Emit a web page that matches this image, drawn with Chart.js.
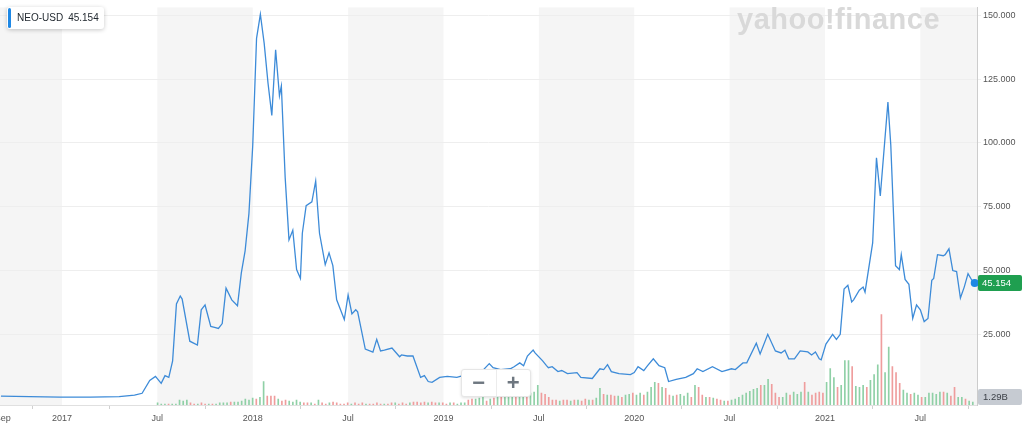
<!DOCTYPE html>
<html>
<head>
<meta charset="utf-8">
<title>NEO-USD</title>
<script src="https://cdn.jsdelivr.net/npm/chart.js@4.4.0/dist/chart.umd.min.js"></script>
<style>
    html, body { margin: 0; padding: 0; background: #fff; }
    #wrap { position: relative; width: 1024px; height: 434px; font-family: "Liberation Sans", Arial, sans-serif; overflow: hidden; }
    #wrap canvas { position: absolute; left: 0; top: 0; }
    .quote { position: absolute; left: 7px; top: 7px; height: 22px; line-height: 22px; padding: 0 5px 0 10px; background: #fff;
             border-radius: 3px; box-shadow: 0 1px 4px rgba(0,0,0,0.22); font-size: 10px; color: #232a31; white-space: nowrap; }
    .quote:before { content: ''; position: absolute; left: 1px; top: 1px; bottom: 1px; width: 3px; border-radius: 2px; background: #1e88e5; }
    .quote b { font-weight: normal; margin-right: 5px; }
    .brand { position: absolute; left: 737px; top: 5px; font-size: 29px; line-height: 29px; font-weight: bold; color: #d9d9d9; letter-spacing: 0.5px; }
    .zoomer { position: absolute; left: 461px; top: 369px; width: 68px; height: 26px; background: #fff; border: 1px solid #e6e6e6;
              border-radius: 3px; box-shadow: 0 1px 3px rgba(0,0,0,0.12); display: flex; }
    .zoomer span { flex: 1; text-align: center; font-size: 22px; line-height: 26px; font-weight: bold; color: #6e7780; }
    .zoomer span + span { border-left: 1px solid #ececec; }
</style>
</head>
<body>
<div id="wrap">
    <canvas id="priceChart" width="1024" height="434"></canvas>
    <div class="quote"><b id="quoteSymbol"></b><span id="quotePrice"></span></div>
    <div class="brand">yahoo!finance</div>
    <div class="zoomer"><span>&minus;</span><span>+</span></div>
</div>
<script>
const symbol = 'NEO-USD';
const lastPrice = 45.154;
const lastVolumeLabel = '1.29B';

// price line, dates as decimal years
const priceDates = [
    2016.68, 2016.83, 2016.99, 2017.15, 2017.30, 2017.38, 2017.42, 2017.46, 2017.49, 2017.52,
    2017.54, 2017.56, 2017.58, 2017.60, 2017.62, 2017.63, 2017.67, 2017.71, 2017.73, 2017.75,
    2017.78, 2017.80, 2017.82, 2017.84, 2017.86, 2017.89, 2017.92, 2017.94, 2017.96, 2017.98,
    2018.00, 2018.02, 2018.04, 2018.06, 2018.08, 2018.10, 2018.12, 2018.14, 2018.15, 2018.17,
    2018.19, 2018.21, 2018.23, 2018.25, 2018.26, 2018.28, 2018.31, 2018.33, 2018.35, 2018.38,
    2018.40, 2018.42, 2018.44, 2018.48, 2018.50, 2018.52, 2018.54, 2018.55, 2018.59, 2018.63,
    2018.65, 2018.67, 2018.69, 2018.73, 2018.77, 2018.78, 2018.81, 2018.84, 2018.88, 2018.90,
    2018.92, 2018.94, 2018.98, 2019.02, 2019.07, 2019.12, 2019.19, 2019.24, 2019.26, 2019.30,
    2019.35, 2019.37, 2019.40, 2019.42, 2019.44, 2019.47, 2019.48, 2019.52, 2019.54, 2019.55,
    2019.57, 2019.60, 2019.62, 2019.65, 2019.70, 2019.72, 2019.78, 2019.82, 2019.84, 2019.86,
    2019.88, 2019.92, 2019.98, 2020.00, 2020.02, 2020.05, 2020.07, 2020.10, 2020.13, 2020.16,
    2020.18, 2020.22, 2020.27, 2020.31, 2020.33, 2020.36, 2020.41, 2020.46, 2020.51, 2020.53,
    2020.57, 2020.59, 2020.64, 2020.66, 2020.70, 2020.74, 2020.77, 2020.79, 2020.81, 2020.84,
    2020.87, 2020.91, 2020.93, 2020.95, 2020.97, 2020.98, 2021.005, 2021.04, 2021.06, 2021.08,
    2021.10, 2021.12, 2021.14, 2021.15, 2021.18, 2021.20, 2021.21, 2021.25, 2021.27, 2021.29,
    2021.33, 2021.345, 2021.37, 2021.39, 2021.40, 2021.42, 2021.44, 2021.46, 2021.48, 2021.50,
    2021.52, 2021.54, 2021.56, 2021.57, 2021.59, 2021.62, 2021.63, 2021.65, 2021.67, 2021.69,
    2021.71, 2021.73, 2021.75, 2021.77, 2021.785
];
const priceValues = [
    0.8, 0.6, 0.4, 0.4, 0.6, 1.2, 1.9, 6.9, 8.5, 5.8,
    8.8, 8.1, 14.6, 36.9, 40.0, 38.8, 22.3, 20.8, 34.6, 36.5,
    28.1, 27.7, 27.3, 29.2, 43.1, 38.5, 36.2, 49.0, 57.7, 72.3,
    99.0, 141.0, 150.4, 139.0, 123.5, 110.8, 136.5, 118.5, 122.3, 86.5,
    62.0, 65.8, 50.4, 46.9, 64.6, 75.4, 76.9, 85.0, 64.6, 52.3,
    56.9, 51.9, 38.5, 30.8, 40.4, 33.0, 34.6, 33.8, 19.2, 18.0,
    23.0, 18.5, 18.8, 19.6, 16.2, 16.9, 16.5, 16.5, 8.1, 8.8,
    6.5, 6.2, 8.1, 8.5, 8.1, 9.2, 9.6, 13.5, 11.9, 11.2,
    11.5, 12.3, 13.8, 12.7, 16.5, 18.8, 17.7, 14.6, 12.7, 11.9,
    12.3, 10.4, 10.8, 9.6, 10.0, 8.1, 7.7, 11.5, 11.2, 13.1,
    10.4, 9.6, 9.2, 10.0, 12.3, 10.8, 12.7, 15.4, 12.7, 11.9,
    6.5, 7.3, 8.1, 9.6, 11.5, 10.4, 12.3, 10.4, 11.5, 11.2,
    13.8, 13.8, 21.5, 17.3, 25.0, 18.5, 17.7, 18.8, 15.4, 15.4,
    18.5, 18.1, 16.9, 18.1, 15.4, 15.0, 21.2, 25.0, 23.0, 25.0,
    42.7, 44.2, 37.7, 38.5, 42.3, 43.5, 41.5, 60.8, 94.2, 79.2,
    116.0, 99.2, 51.9, 50.4, 56.2, 46.5, 44.6, 31.2, 36.5, 34.6,
    30.0, 31.2, 46.2, 46.9, 56.2, 55.8, 56.2, 58.5, 50.0, 49.6,
    39.2, 43.5, 48.8, 46.2, 45.154
];

// weekly volume in billions, oldest first; last week ends 2021.775
const volumeEnd = 2021.775;
const volume = [
    0.9, 0.4, 0.4, 0.4, 0.4, 0.4, 2.2, 1.7, 2.2, 0.9, 0.4, 0.4, 0.9, 0.4, 0.4, 0.4, 0.4, 0.9, 0.9,
    0.9, 1.3, 1.3, 1.3, 1.7, 2.6, 2.2, 3.0, 2.6, 3.4, 10.3,
    3.9, 3.9, 3.9, 2.6, 1.7, 2.2, 1.7, 1.3, 2.2, 1.3, 0.9,
    0.9, 0.9, 0.4, 2.2, 0.9, 0.4, 0.9, 1.3, 0.9, 0.4, 0.4, 0.9, 0.4,
    0.9, 0.4, 0.9, 0.4, 0.4, 0.4, 0.9, 0.4, 0.4, 0.4, 0.9, 0.9, 0.4, 0.9, 0.4, 0.9,
    1.3, 1.3, 0.9, 1.3, 0.9, 1.3, 0.9, 0.9, 0.9, 0.4, 0.9, 0.9, 0.4, 0.9, 0.9,
    2.2, 2.6, 2.6, 3.0, 3.4, 1.7, 2.6, 3.0, 3.9, 3.4, 5.2,
    4.3, 4.7, 4.3, 5.2, 5.6, 4.7, 5.2, 5.6, 8.6,
    5.2, 4.7, 3.4,
    2.2, 2.2, 1.7, 2.2, 2.2, 1.7, 2.2, 2.2, 1.7, 2.6, 2.2, 2.2,
    3.0, 7.3,
    4.7, 4.3, 4.3, 3.9, 3.9, 3.4, 4.3, 4.7, 5.2,
    4.3, 5.2, 4.3, 5.6,
    7.7, 9.9, 9.5, 7.7, 7.3,
    4.3, 3.9, 4.3, 4.7, 3.9, 5.2,
    3.4, 8.6, 7.7,
    4.3, 3.4, 3.4, 3.0, 2.6, 2.2,
    1.7, 1.7, 2.2, 2.6, 3.4, 4.3, 5.2,
    6.0, 6.9,
    7.3, 8.6, 8.6, 11.2, 9.0, 5.2, 3.4, 3.4, 5.2, 4.3,
    5.6, 4.7, 5.6, 9.9, 5.6, 4.3, 5.2, 5.6, 5.2, 9.9,
    15.9, 12.0, 7.7, 8.6, 19.4, 19.4, 16.8, 8.2, 7.7, 8.6,
    7.7, 10.8, 13.3, 17.6, 39.6, 14.2, 25.4, 16.8, 14.2, 9.5,
    6.5, 5.2, 4.7, 5.2, 4.3, 3.4, 3.4, 5.2, 5.2, 4.7,
    5.6, 5.6, 5.2, 3.9, 7.7, 3.4, 3.4, 2.6, 1.7, 1.3
];
// 1 = price closed up that week, 0 = down
const volumeUp = [
    1, 1, 1, 0, 1, 1, 1, 1, 1, 0, 0, 1, 0, 0, 1, 0, 1, 1, 1,
    1, 0, 1, 1, 1, 1, 1, 1, 0, 1, 1,
    0, 0, 0, 1, 0, 0, 1, 1, 1, 1, 0,
    0, 1, 0, 1, 0, 0, 1, 0, 0, 0, 0, 0, 1,
    0, 0, 0, 1, 0, 0, 0, 0, 1, 0, 0, 1, 0, 0, 0, 1,
    0, 0, 0, 0, 1, 0, 0, 1, 0, 0, 1, 0, 1, 1, 1,
    0, 0, 1, 1, 1, 0, 1, 0, 1, 0, 1,
    1, 1, 0, 1, 1, 0, 1, 1, 1,
    0, 0, 0,
    0, 0, 1, 0, 0, 1, 0, 1, 0, 0, 1, 0,
    1, 1,
    0, 1, 0, 0, 1, 0, 1, 1, 0,
    1, 1, 0, 1,
    1, 1, 0, 1, 0,
    0, 1, 0, 1, 1, 1,
    0, 1, 0,
    0, 1, 0, 1, 0, 0,
    1, 0, 1, 1, 1, 1, 1,
    1, 1,
    1, 0, 1, 1, 0, 0, 0, 1, 1, 0,
    1, 1, 1, 0, 1, 0, 0, 0, 0, 1,
    1, 1, 0, 1, 1, 1, 0, 1, 1, 1,
    0, 1, 1, 1, 0, 1, 1, 0, 0, 0,
    1, 1, 0, 1, 1, 0, 1, 1, 1, 1,
    1, 0, 1, 0, 0, 1, 1, 0, 1, 1
];

const xMin = 2016.675;
const xMax = 2021.797;
const xTicks = [2016.69, 2017, 2017.5, 2018, 2018.5, 2019, 2019.5, 2020, 2020.5, 2021, 2021.5];
const xTickLabels = ['Sep', '2017', 'Jul', '2018', 'Jul', '2019', 'Jul', '2020', 'Jul', '2021', 'Jul'];
const bandEdges = [xMin, 2017, 2017.5, 2018, 2018.5, 2019, 2019.5, 2020, 2020.5, 2021, 2021.5, xMax];
const yTicks = [25, 50, 75, 100, 125, 150];

document.addEventListener('DOMContentLoaded', function() {
    document.getElementById('quoteSymbol').innerText = symbol;
    document.getElementById('quotePrice').innerText = lastPrice.toFixed(3);
    initializePriceChart();
});

// half-year grey bands behind the plot
const bandPlugin = {
    id: 'bands',
    beforeDraw(chart) {
        const { ctx, chartArea, scales } = chart;
        ctx.save();
        ctx.fillStyle = '#f5f5f5';
        for (let i = 0; i < bandEdges.length - 1; i += 2) {
            const x1 = scales.x.getPixelForValue(bandEdges[i]);
            const x2 = scales.x.getPixelForValue(bandEdges[i + 1]);
            ctx.fillRect(x1, chartArea.top, x2 - x1, chartArea.bottom - chartArea.top);
        }
        ctx.restore();
    }
};

// current price and volume tags on the right axis
const tagPlugin = {
    id: 'tags',
    afterDraw(chart) {
        const { ctx, chartArea, scales } = chart;
        const left = chartArea.right + 1;
        ctx.save();
        ctx.font = '9.5px "Liberation Sans", Arial, sans-serif';
        ctx.textBaseline = 'middle';

        const py = scales.y.getPixelForValue(lastPrice);
        ctx.fillStyle = '#1f9f50';
        ctx.beginPath();
        ctx.roundRect(left, py - 8, 44, 16, 2);
        ctx.fill();
        ctx.fillStyle = '#ffffff';
        ctx.fillText(lastPrice.toFixed(3), left + 4, py + 0.5);

        const vy = chartArea.bottom - 8;
        ctx.fillStyle = '#c6cbd2';
        ctx.beginPath();
        ctx.roundRect(left, vy - 8, 44, 16, 2);
        ctx.fill();
        ctx.fillStyle = '#3c4148';
        ctx.fillText(lastVolumeLabel, left + 5, vy + 0.5);
        ctx.restore();
    }
};

function initializePriceChart() {
    const ctx = document.getElementById('priceChart').getContext('2d');
    const weekStep = 7 / 365.25;
    const n = volume.length;

    const linePoints = priceDates.map((d, i) => ({ x: d, y: priceValues[i] }));
    const volPoints = volume.map((v, i) => ({ x: volumeEnd - (n - 1 - i) * weekStep, y: v }));
    const lastIndex = linePoints.length - 1;

    const priceChart = new Chart(ctx, {
        data: {
            datasets: [{
                type: 'line',
                label: symbol,
                data: linePoints,
                yAxisID: 'y',
                borderColor: '#3d8bd8',
                borderWidth: 1.3,
                tension: 0,
                clip: false,
                pointRadius: c => c.dataIndex === lastIndex ? 4 : 0,
                pointBackgroundColor: '#1e88e5',
                pointBorderWidth: 0,
                order: 0
            }, {
                type: 'bar',
                label: 'Volume',
                data: volPoints,
                yAxisID: 'vol',
                backgroundColor: volumeUp.map(u => u ? '#8fd0a6' : '#ef9d9d'),
                barThickness: 1,
                order: 1
            }]
        },
        options: {
            responsive: false,
            animation: false,
            layout: { padding: 0, autoPadding: false },
            plugins: {
                legend: { display: false },
                tooltip: { enabled: false }
            },
            scales: {
                x: {
                    type: 'linear',
                    position: 'bottom',
                    min: xMin,
                    max: xMax,
                    offset: false,
                    afterBuildTicks: s => { s.ticks = xTicks.map(v => ({ value: v })); },
                    afterFit: s => { s.height = 29; s.paddingLeft = 0; s.paddingRight = 0; },
                    grid: {
                        drawOnChartArea: false,
                        tickLength: 4,
                        color: '#d0d0d0'
                    },
                    border: { color: '#e0e0e0' },
                    ticks: {
                        autoSkip: false,
                        maxRotation: 0,
                        padding: 4,
                        color: '#555',
                        font: { size: 9, family: '"Liberation Sans", Arial, sans-serif' },
                        callback: (v, i) => xTickLabels[i]
                    }
                },
                y: {
                    type: 'linear',
                    position: 'right',
                    min: -2.7,
                    max: 153.1,
                    afterBuildTicks: s => { s.ticks = yTicks.map(v => ({ value: v })); },
                    afterFit: s => { s.width = 47; },
                    grid: {
                        color: '#eeeeee',
                        tickLength: 4
                    },
                    border: { color: '#cccccc' },
                    ticks: {
                        padding: 2,
                        color: '#555',
                        font: { size: 9, family: '"Liberation Sans", Arial, sans-serif' },
                        callback: v => v.toFixed(3)
                    }
                },
                vol: {
                    type: 'linear',
                    display: false,
                    min: 0,
                    max: 174
                }
            }
        },
        plugins: [bandPlugin, tagPlugin]
    });
    window.priceChart = priceChart;
}
</script>
</body>
</html>
